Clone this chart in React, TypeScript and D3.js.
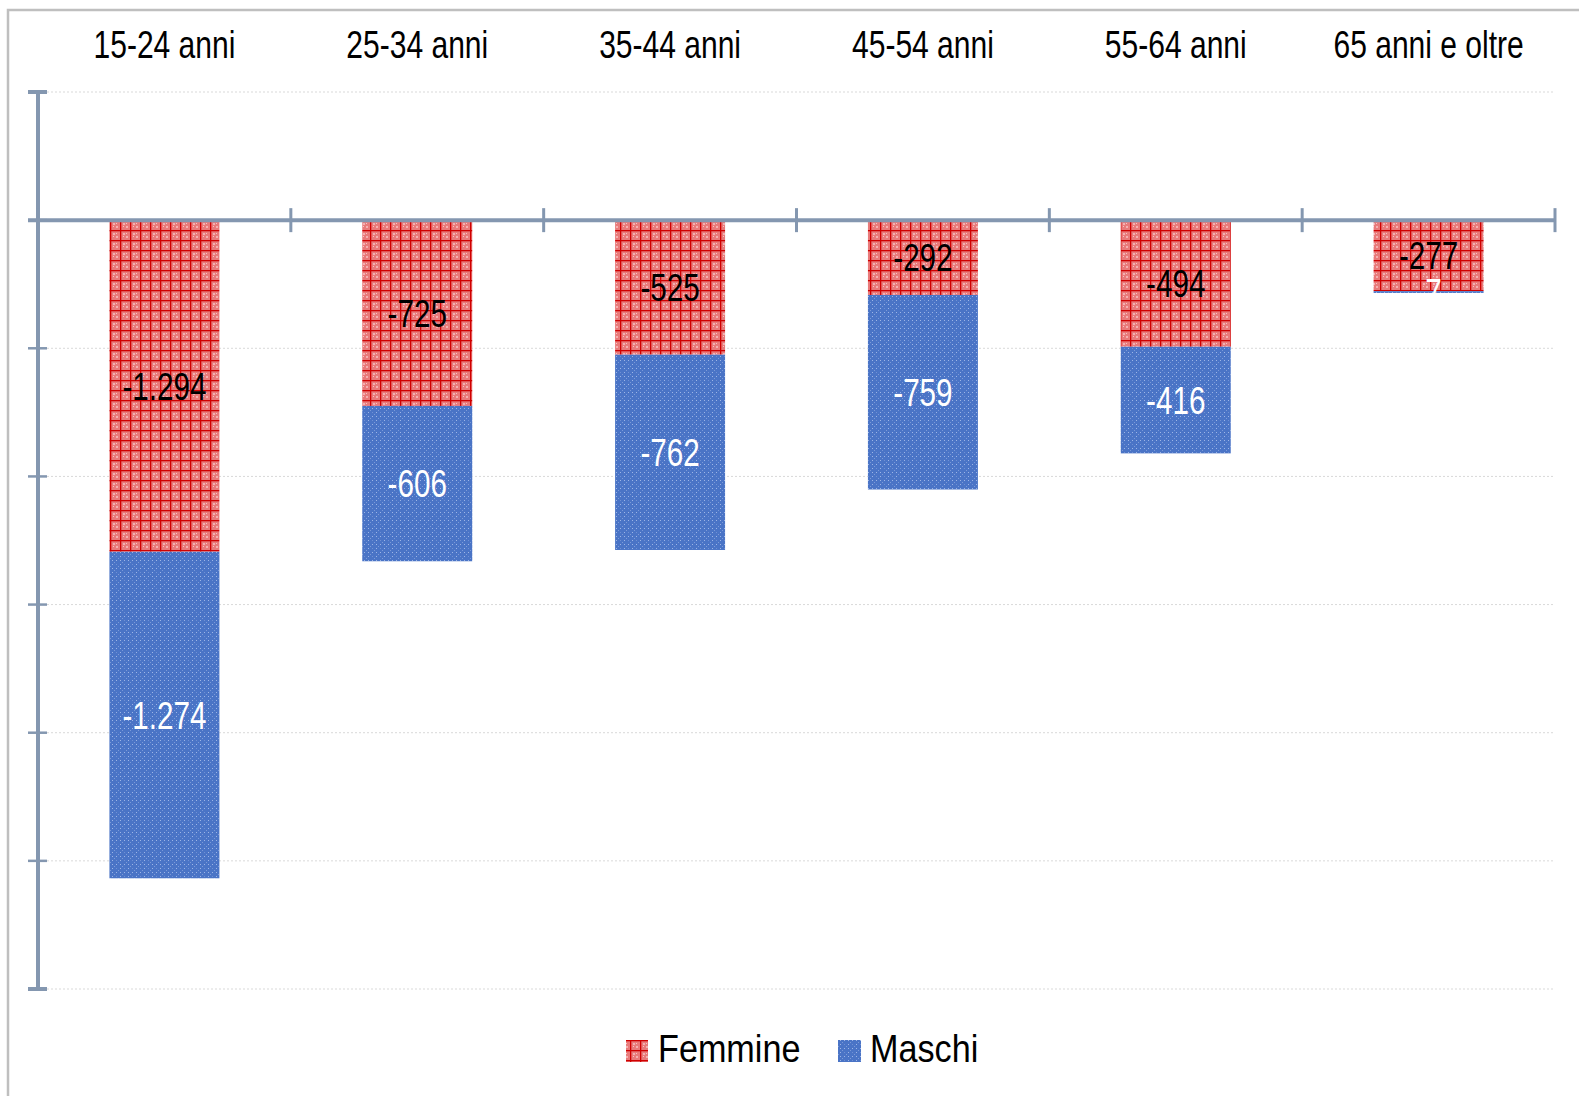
import React from "react";
import * as d3 from "d3";

const categories = ["15-24 anni", "25-34 anni", "35-44 anni", "45-54 anni", "55-64 anni", "65 anni e oltre"];
const femmine = [-1294, -725, -525, -292, -494, -277];
const maschi = [-1274, -606, -762, -759, -416, -7];
const seriesNames = ["Femmine", "Maschi"];
const yTicks = [500, 0, -500, -1000, -1500, -2000, -2500, -3000];

const W = 1579;
const H = 1096;
const AXIS = "#8497b0";

const fmt = (v: number) => {
  const s = Math.abs(v).toString().replace(/\B(?=(\d{3})+(?!\d))/g, ".");
  return (v < 0 ? "-" : "") + s;
};

export default function App() {
  const x0 = 38, x1 = 1555;
  const x = d3.scaleBand<string>().domain(categories).range([x0, x1]).paddingInner(0.565).paddingOuter(0.2825);
  const step = (x1 - x0) / categories.length;
  const y = d3.scaleLinear().domain([-3000, 500]).range([989, 92]);

  const rows = categories.map((c, i) => ({ cat: c, Femmine: femmine[i], Maschi: maschi[i] }));
  const stack = d3.stack<any>().keys(seriesNames).offset(d3.stackOffsetDiverging);
  const series = stack(rows);
  const fills = ["url(#patRed)", "url(#patBlue)"];
  const textFill = ["#000", "#fff"];

  const lblFont = "'Liberation Sans', Arial, sans-serif";

  return (
    <svg width={W} height={H} style={{ position: "fixed", left: 0, top: 0, background: "#fff" }}>
      <defs>
        <pattern id="patRed" width="10" height="10" patternUnits="userSpaceOnUse">
          <rect width="10" height="10" fill="#e97a7a" />
          <rect x="3" y="3" width="2" height="2" fill="#f3b0b0" />
          <rect x="6" y="6" width="2" height="2" fill="#f3b0b0" />
          <rect x="6" y="3" width="1" height="1" fill="#f7c4c4" />
          <rect x="3" y="6" width="1" height="1" fill="#f7c4c4" />
          <rect x="0" y="0" width="10" height="1.3" fill="#d00000" />
          <rect x="0" y="0" width="1.3" height="10" fill="#d00000" />
        </pattern>
        <pattern id="patBlue" width="8" height="8" patternUnits="userSpaceOnUse">
          <rect width="8" height="8" fill="#4a74c6" />
          <rect x="0" y="0" width="1" height="1" fill="#9db5e6" />
          <rect x="4" y="0" width="1" height="1" fill="#9db5e6" />
          <rect x="0" y="4" width="1" height="1" fill="#9db5e6" />
          <rect x="2" y="2" width="1" height="1" fill="#7b9ad8" />
          <rect x="6" y="6" width="1" height="1" fill="#7b9ad8" />
          <rect x="4" y="4" width="1" height="1" fill="#6f90d4" />
        </pattern>
      </defs>

      {/* outer border */}
      <rect x={8} y={10} width={W + 20} height={H + 20} fill="none" stroke="#bfbfbf" strokeWidth={2.5} />

      {/* gridlines */}
      {yTicks.map((t) => (
        <line key={"g" + t} x1={47} x2={x1} y1={y(t)} y2={y(t)} stroke="#d9d9d9" strokeWidth={1} strokeDasharray="2,2" />
      ))}

      {/* bars */}
      {series.map((s, si) => (
        <g key={s.key}>
          {s.map((d, i) => {
            const yt = y(Math.max(d[0], d[1]));
            const yb = y(Math.min(d[0], d[1]));
            return (
              <rect key={i} x={x(categories[i])} y={yt} width={x.bandwidth()} height={yb - yt} fill={fills[si]} />
            );
          })}
        </g>
      ))}

      {/* y axis */}
      <line x1={38} x2={38} y1={y(500)} y2={y(-3000)} stroke={AXIS} strokeWidth={4} />
      {yTicks.map((t) => (
        <line key={"t" + t} x1={28} x2={47} y1={y(t)} y2={y(t)} stroke={AXIS} strokeWidth={t === 500 || t === -3000 ? 4 : 2.5} />
      ))}
      {/* zero axis */}
      <line x1={28} x2={x1} y1={y(0)} y2={y(0)} stroke={AXIS} strokeWidth={4} />
      {d3.range(categories.length + 1).map((i) => (
        <line key={"xt" + i} x1={x0 + i * step} x2={x0 + i * step} y1={y(0) - 12} y2={y(0) + 12} stroke={AXIS} strokeWidth={3} />
      ))}

      {/* data labels */}
      {series.map((s, si) => (
        <g key={"l" + s.key}>
          {s.map((d, i) => {
            const v = si === 0 ? femmine[i] : maschi[i];
            const cy = (y(d[0]) + y(d[1])) / 2;
            const cx = (x(categories[i]) as number) + x.bandwidth() / 2;
            return (
              <text key={i} transform={`translate(${cx},${cy + 13.6}) scale(0.78,1)`} textAnchor="middle" fontFamily={lblFont} fontSize={38} fill={textFill[si]}>
                {fmt(v)}
              </text>
            );
          })}
        </g>
      ))}

      {/* category labels */}
      {categories.map((c) => (
        <text key={c} transform={`translate(${(x(c) as number) + x.bandwidth() / 2},58) scale(0.79,1)`} textAnchor="middle" fontFamily={lblFont} fontSize={38} fill="#000">
          {c}
        </text>
      ))}

      {/* legend */}
      <g>
        <rect x={626} y={1040} width={22} height={22} fill="url(#patRed)" />
        <text transform="translate(658,1062) scale(0.9,1)" fontFamily={lblFont} fontSize={38} fill="#000">{seriesNames[0]}</text>
        <rect x={838} y={1040} width={23} height={22} fill="url(#patBlue)" />
        <text transform="translate(870,1062) scale(0.9,1)" fontFamily={lblFont} fontSize={38} fill="#000">{seriesNames[1]}</text>
      </g>
    </svg>
  );
}
